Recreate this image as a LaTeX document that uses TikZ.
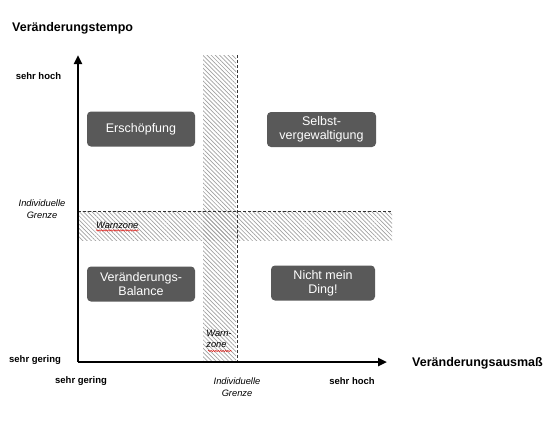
\documentclass[tikz,border=0pt]{standalone}
\usepackage{fontspec}
\setmainfont{Liberation Sans}
\usetikzlibrary{arrows.meta,positioning,calc,patterns.meta,decorations.pathmorphing}
\definecolor{Ink}{HTML}{000000}
\definecolor{BoxFill}{HTML}{595959}
\definecolor{Dash}{HTML}{333333}
\definecolor{Hatch}{HTML}{A0A0A0}
\definecolor{Squiggle}{HTML}{E0201B}
\tikzset{
  quadrant/.style={fill=BoxFill,rounded corners=4pt,minimum height=35pt,align=center,font=\fontsize{12.5}{14}\selectfont,text=white,inner sep=1pt},
  axislabel/.style={font=\fontsize{12.5}{15}\selectfont\bfseries,text=Ink,inner sep=0pt},
  scalelabel/.style={font=\fontsize{9.5}{11}\selectfont\bfseries,text=Ink,inner sep=0pt},
  limitlabel/.style={font=\fontsize{9.3}{12}\selectfont\itshape,text=Ink,align=center,inner sep=0pt},
  warnband/.style={pattern={Lines[angle=-45,distance=3pt,line width=0.7pt]},pattern color=Hatch},
  axis/.style={-{Triangle[length=9pt,width=8pt]},line width=2.6pt,draw=Ink},
  limit/.style={draw=Dash,line width=1pt,dash pattern=on 3pt off 2pt},
  spell/.style={draw=Squiggle,line width=0.5pt,decorate,decoration={snake,amplitude=0.7pt,segment length=2.4pt}}
}

\begin{document}
\begin{tikzpicture}[x=1pt,y=-1pt]
  \useasboundingbox (0,0) rectangle (559,421);
  % warn zones
  \fill[warnband] (203,55) rectangle (236,361);
  \fill[warnband] (78,211) rectangle (392,240);
  \coordinate (vtop) at (237,55);
  \coordinate (vbot) at (237,362);
  \coordinate (hleft) at (78,211);
  \coordinate (hright) at (392,211);
  \draw[limit] (vtop) -- (vbot);
  \draw[limit] (hleft) -- (hright);
  % axes
  \coordinate (origin) at (78,362);
  \coordinate (ytip) at (78,55);
  \coordinate (xtip) at (387,362);
  \draw[axis] (origin) -- (ytip);
  \draw[axis] (origin) -- (xtip);
  % quadrants
  \node[quadrant,minimum width=108pt] (exhaust) at (141,129) {Erschöpfung};
  \node[quadrant,minimum width=109pt] (selfforce) at (321.5,129.5) {Selbst-\\vergewaltigung};
  \node[quadrant,minimum width=108pt] (balance) at (141,284) {Veränderungs-\\Balance};
  \node[quadrant,minimum width=104pt] (notmine) at (323,283) {Nicht mein\\Ding!};
  % labels
  \node[axislabel,anchor=base west] (ytitle) at (12,31.5) {Veränderungstempo};
  \node[axislabel,anchor=west] (xtitle) at (412,363) {Veränderungsausmaß};
  \node[scalelabel] (yhigh) at (38.5,76.5) {sehr hoch};
  \node[scalelabel] (ylow) at (35,360) {sehr gering};
  \node[limitlabel] (ylimit) at (42,209) {Individuelle\\Grenze};
  \node[scalelabel] (xlow) at (81,381) {sehr gering};
  \node[scalelabel] (xhigh) at (352,381) {sehr hoch};
  \node[limitlabel] (xlimit) at (237,387) {Individuelle\\Grenze};
  \node[limitlabel,anchor=west] (warnh) at (96,225) {Warnzone};
  \node[limitlabel,align=left,font=\fontsize{9.3}{11}\selectfont\itshape] (warnv) at (219,339) {Warn-\\zone};
  \draw[spell] ($(warnh.south west)+(0,2)$) -- ($(warnh.south east)+(0,2)$);
  \draw[spell] (208,351) -- (232,351);
\end{tikzpicture}
\end{document}
